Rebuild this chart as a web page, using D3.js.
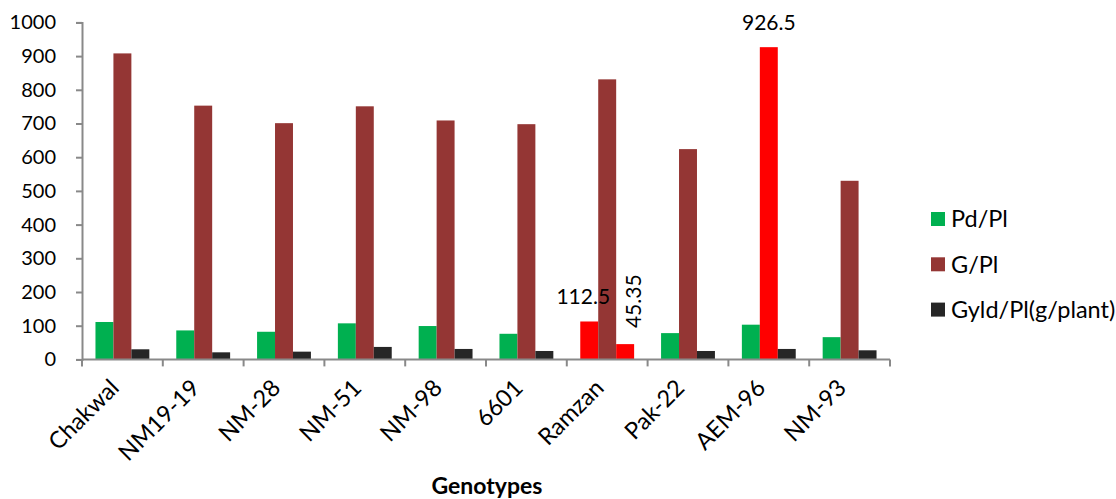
<!DOCTYPE html>
<html>
<head>
<meta charset="utf-8">
<script src="https://cdn.jsdelivr.net/npm/d3@7"></script>
<style>
  body { margin: 0; background: #fff; }
  svg { display: block; font-family: Lato, "Open Sans", sans-serif; }
</style>
</head>
<body>
<svg id="chart" width="1116" height="499"></svg>
<script>
const categories = ["Chakwal", "NM19-19", "NM-28", "NM-51", "NM-98", "6601", "Ramzan", "Pak-22", "AEM-96", "NM-93"];
const series = ["Pd/Pl", "G/Pl", "Gyld/Pl(g/plant)"];
const pdPl   = [111, 86, 82, 107, 99, 76, 112.5, 78, 103, 66];
const gPl    = [908, 753, 701, 751, 709, 698, 831, 624, 926.5, 530];
const gyldPl = [30, 21, 23, 37, 31, 25, 45.35, 25, 31, 27];
const yTicks = [0, 100, 200, 300, 400, 500, 600, 700, 800, 900, 1000];
const seriesColors = ["#00B050", "#943634", "#262626"];
const highlightColor = "#FF0000";
// highlighted cells: [category, series]
const highlighted = [["Ramzan", "Pd/Pl"], ["Ramzan", "Gyld/Pl(g/plant)"], ["AEM-96", "G/Pl"]];
const labelled = [
  { cat: "Ramzan", ser: "Pd/Pl", text: "112.5", rotate: false, dx: -6 },
  { cat: "Ramzan", ser: "Gyld/Pl(g/plant)", text: "45.35", rotate: true, dx: 0 },
  { cat: "AEM-96", ser: "G/Pl", text: "926.5", rotate: false, dx: 0 }
];

const valuesBySeries = { "Pd/Pl": pdPl, "G/Pl": gPl, "Gyld/Pl(g/plant)": gyldPl };

const svg = d3.select("#chart");
const mLeft = 82, mRight = 890, mTop = 22.4, mBottom = 359.4;

const x0 = d3.scaleBand().domain(categories).range([mLeft, mRight]).padding(0);
const bw = x0.bandwidth();
const x1 = d3.scaleBand().domain(series).range([bw * 0.1667, bw * 0.8333]).padding(0);
const y = d3.scaleLinear().domain([0, 1000]).range([mBottom, mTop]);
const color = d3.scaleOrdinal().domain(series).range(seriesColors);

const isHi = (c, s) => highlighted.some(h => h[0] === c && h[1] === s);

const cells = [];
categories.forEach((c, i) => series.forEach(s => cells.push({ c, s, v: valuesBySeries[s][i] })));

svg.append("g").selectAll("rect").data(cells).join("rect")
  .attr("x", d => x0(d.c) + x1(d.s))
  .attr("width", x1.bandwidth())
  .attr("y", d => y(d.v))
  .attr("height", d => y(0) - y(d.v))
  .attr("fill", d => isHi(d.c, d.s) ? highlightColor : color(d.s));

// Y axis
const yAxis = svg.append("g").attr("transform", `translate(${mLeft},0)`)
  .call(d3.axisLeft(y).tickValues(yTicks).tickSize(6).tickPadding(20).tickFormat(d3.format("d")));
yAxis.select(".domain").attr("stroke", "#898989").attr("stroke-width", 2);
yAxis.selectAll(".tick line").attr("stroke", "#898989").attr("stroke-width", 2);
yAxis.selectAll(".tick text").attr("font-size", 20).attr("fill", "#000").attr("font-family", "Lato, sans-serif");

// X axis
const xAxisG = svg.append("g").attr("transform", `translate(0,${mBottom})`);
xAxisG.append("line").attr("x1", mLeft).attr("x2", mRight).attr("y1", 0).attr("y2", 0)
  .attr("stroke", "#898989").attr("stroke-width", 2);
const boundaries = categories.map(c => x0(c)).concat([mRight]);
xAxisG.selectAll("line.tk").data(boundaries).join("line").attr("class", "tk")
  .attr("x1", d => d).attr("x2", d => d).attr("y1", 0).attr("y2", 7)
  .attr("stroke", "#898989").attr("stroke-width", 2);
xAxisG.selectAll("text").data(categories).join("text")
  .attr("transform", d => `translate(${x0(d) + bw / 2 - 2},${30}) rotate(-45)`)
  .attr("text-anchor", "end")
  .attr("font-size", 23.5)
  .attr("fill", "#000")
  .text(d => d);

// Axis title
svg.append("text").attr("x", 487).attr("y", 494).attr("text-anchor", "middle")
  .attr("font-size", 23).attr("font-weight", "bold").attr("fill", "#000").text("Genotypes");

// Data labels
labelled.forEach(l => {
  const i = categories.indexOf(l.cat);
  const v = valuesBySeries[l.ser][i];
  const cx = x0(l.cat) + x1(l.ser) + x1.bandwidth() / 2;
  const ty = y(v);
  if (l.rotate) {
    svg.append("text").attr("transform", `translate(${cx + 16},${ty - 16}) rotate(-90)`)
      .attr("text-anchor", "start").attr("font-size", 21).attr("fill", "#000").text(l.text);
  } else {
    svg.append("text").attr("x", cx + l.dx).attr("y", ty - 17).attr("text-anchor", "middle")
      .attr("font-size", 21).attr("fill", "#000").text(l.text);
  }
});

// Legend
const legend = svg.append("g").selectAll("g").data(series).join("g")
  .attr("transform", (d, i) => `translate(931,${212 + i * 45.3})`);
legend.append("rect").attr("width", 14).attr("height", 14).attr("fill", d => color(d));
legend.append("text").attr("x", 20).attr("y", 7).attr("dy", "0.36em")
  .attr("font-size", 23.5).attr("fill", "#000").text(d => d);
</script>
</body>
</html>
